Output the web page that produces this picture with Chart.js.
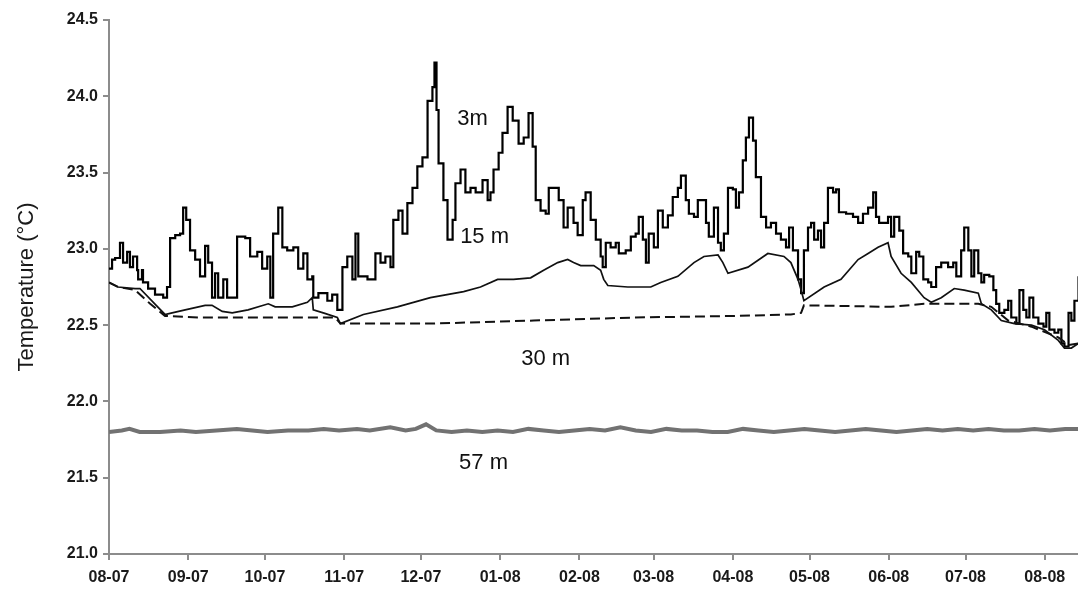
<!DOCTYPE html>
<html>
<head>
<meta charset="utf-8">
<script src="https://cdn.jsdelivr.net/npm/chart.js@4.4.1/dist/chart.umd.min.js"></script>
<style>
	html, body { margin: 0; padding: 0; background: #fff; }
	#wrap { width: 1078px; height: 592px; }
</style>
</head>
<body>
<div id="wrap"><canvas id="tempChart"></canvas></div>
<script>
// days counted from 1 Aug 2007, temperatures in °C
const monthDays = [0, 31, 61, 92, 122, 153, 184, 213, 244, 274, 305, 335, 366];
const monthLabels = ["08-07", "09-07", "10-07", "11-07", "12-07", "01-08", "02-08", "03-08", "04-08", "05-08", "06-08", "07-08", "08-08"];

const temp3m = [[0,22.87],[1.2,22.93],[2.4,22.94],[4.3,23.04],[5.5,22.91],[7.1,22.98],[8.2,22.88],[9.4,22.95],[11,22.86],[11.4,22.8],[12.9,22.86],[13.3,22.78],[15.3,22.74],[18,22.7],[21.2,22.68],[22.7,22.75],[23.9,23.07],[25.9,23.09],[27.8,23.1],[29,23.27],[30.2,23.19],[31.7,22.99],[33.7,22.93],[35.6,22.82],[37.6,23.02],[38.8,22.91],[40.3,22.68],[41.5,22.84],[42.7,22.68],[44.7,22.8],[46.2,22.68],[48.2,22.68],[50.1,23.08],[53.3,23.07],[55.2,22.95],[58,22.98],[59.9,22.87],[61.9,22.95],[63.1,22.68],[64.2,23.1],[66.2,23.27],[67.8,23.01],[69.7,22.99],[72.1,23.01],[74,22.87],[76,22.97],[77.6,22.8],[79.5,22.82],[79.9,22.68],[81.9,22.71],[83.8,22.71],[85.4,22.66],[87.3,22.7],[89.3,22.6],[91.3,22.88],[93.2,22.95],[95.2,22.8],[96.4,23.1],[97.5,22.82],[101.1,22.8],[104.2,22.97],[106.2,22.91],[108.1,22.95],[110.1,22.88],[111.2,23.19],[113.2,23.25],[114.8,23.1],[116.7,23.3],[118.7,23.4],[120.6,23.54],[122.6,23.6],[124.6,23.97],[126.5,24.06],[127.3,24.22],[128.1,23.91],[128.9,23.56],[130.8,23.32],[132.4,23.06],[134.4,23.19],[135.5,23.43],[137.5,23.52],[139.4,23.37],[141.4,23.4],[143.4,23.37],[146.1,23.45],[148.1,23.32],[149.2,23.37],[150.4,23.52],[152.4,23.63],[153.9,23.76],[155.9,23.93],[157.9,23.84],[160.2,23.69],[162.2,23.73],[164.1,23.89],[165.7,23.67],[166.9,23.32],[168.8,23.25],[170.8,23.23],[172,23.4],[173.9,23.4],[175.9,23.32],[177.8,23.14],[179.4,23.27],[181.7,23.17],[183.3,23.09],[185.3,23.32],[186.4,23.37],[188.4,23.19],[190.4,23.06],[192.3,22.95],[193.1,22.88],[194.3,23.04],[196.2,23.01],[198.2,23.04],[199.4,22.97],[202.1,22.99],[204.1,23.08],[206,23.1],[207.2,23.21],[208.8,23.06],[210,22.91],[211.1,23.1],[213.1,23.01],[214.7,23.25],[216.6,23.14],[218.6,23.22],[220.5,23.34],[222.5,23.4],[223.7,23.48],[225.6,23.32],[226.8,23.23],[228.8,23.21],[230.3,23.32],[232.3,23.32],[233.5,23.17],[234.6,23.08],[236.6,23.27],[238.2,23.04],[239.3,22.99],[240.5,23.1],[242.1,23.4],[244,23.39],[245.2,23.27],[246.4,23.37],[247.9,23.58],[249.1,23.73],[250.3,23.86],[251.9,23.71],[253,23.47],[255,23.21],[257,23.14],[258.9,23.17],[260.9,23.1],[262.8,23.06],[264.8,23.01],[266,23.14],[267.5,22.99],[269.5,22.8],[270.7,22.71],[271.8,22.99],[273.4,23.14],[274.6,23.17],[275.8,23.06],[277.3,23.12],[278.5,23.01],[279.7,23.17],[281.2,23.4],[283.2,23.37],[284.4,23.39],[285.5,23.24],[288.3,23.23],[291,23.21],[293,23.17],[294.9,23.23],[296.9,23.27],[298.9,23.37],[300,23.21],[301.2,23.17],[303.2,23.17],[304.7,23.21],[305.9,23.08],[307.1,23.21],[309.1,23.12],[310.6,22.97],[312.6,22.95],[313.8,22.84],[315.7,22.98],[316.9,22.95],[318.5,22.8],[320.4,22.78],[321.6,22.75],[323.5,22.88],[325.5,22.91],[328.2,22.88],[330.2,22.91],[331.4,22.82],[333.3,22.99],[334.5,23.14],[336.1,22.99],[337.3,22.82],[338.4,22.99],[340,22.84],[341.2,22.78],[342.3,22.83],[344.3,22.82],[345.9,22.73],[347,22.64],[348.2,22.58],[350.2,22.6],[351.7,22.66],[352.9,22.55],[354.9,22.51],[356.1,22.73],[357.6,22.6],[358.8,22.55],[360,22.68],[361.5,22.55],[363.5,22.51],[365.5,22.49],[366.6,22.58],[367.8,22.47],[369.8,22.45],[371.3,22.47],[372.5,22.38],[373.7,22.36],[375.3,22.58],[376.4,22.53],[377.6,22.66],[379.2,22.82]];

const temp15m = [[0,22.78],[3.5,22.75],[10.2,22.74],[12.1,22.74],[21.9,22.57],[24.7,22.58],[29.8,22.6],[37.6,22.63],[40.3,22.63],[44.3,22.59],[48.2,22.58],[54.4,22.6],[62.3,22.64],[65,22.62],[71.7,22.62],[77.6,22.65],[79.5,22.68],[79.9,22.6],[83.8,22.58],[89.3,22.55],[90.5,22.51],[99.5,22.57],[112.8,22.62],[125.7,22.68],[138.7,22.72],[145.3,22.75],[152,22.8],[158.2,22.8],[164.9,22.81],[170,22.86],[175.5,22.91],[179.4,22.93],[181.7,22.91],[184.5,22.89],[189.6,22.89],[192.3,22.86],[193.5,22.8],[195.1,22.76],[202.9,22.75],[211.9,22.75],[215.8,22.78],[222.5,22.82],[228.8,22.91],[232.7,22.95],[238.2,22.96],[240.1,22.91],[242.1,22.84],[249.9,22.88],[257.7,22.97],[264,22.95],[266.7,22.91],[269.5,22.8],[270.7,22.73],[271.8,22.66],[279.7,22.75],[286.3,22.8],[293,22.93],[296.9,22.97],[300.8,23.01],[304.7,23.04],[305.9,22.95],[309.8,22.84],[313.8,22.78],[318.8,22.68],[321.6,22.65],[325.5,22.68],[330.6,22.74],[334.5,22.73],[340,22.71],[341.2,22.64],[345.1,22.6],[349,22.53],[354.1,22.51],[360.8,22.5],[365.9,22.47],[371.3,22.4],[373.7,22.35],[376.4,22.35],[379.2,22.38]];

const temp30m = [[0,22.78],[3.5,22.75],[10.2,22.73],[16.1,22.64],[21.9,22.56],[35.6,22.55],[88.5,22.55],[90.5,22.51],[125.7,22.51],[166.1,22.53],[205.3,22.55],[244.4,22.56],[266.7,22.57],[270.7,22.58],[271.8,22.63],[305.9,22.62],[318.8,22.64],[340,22.64],[345.1,22.62],[351.7,22.53],[360.8,22.49],[371.3,22.42],[375.3,22.37],[379.2,22.38]];

const temp57m = [[0,21.8],[5,21.81],[8,21.82],[12,21.8],[20,21.8],[28,21.81],[34,21.8],[42,21.81],[50,21.82],[56,21.81],[62,21.8],[70,21.81],[78,21.81],[84,21.82],[90,21.81],[97,21.82],[102,21.81],[110,21.83],[116,21.81],[120,21.82],[124,21.85],[128,21.81],[134,21.8],[140,21.81],[146,21.8],[152,21.81],[158,21.8],[164,21.82],[170,21.81],[176,21.8],[182,21.81],[188,21.82],[194,21.81],[200,21.83],[206,21.81],[212,21.8],[218,21.82],[224,21.81],[230,21.81],[236,21.8],[242,21.8],[248,21.82],[254,21.81],[260,21.8],[266,21.81],[272,21.82],[278,21.81],[284,21.8],[290,21.81],[296,21.82],[302,21.81],[308,21.8],[314,21.81],[320,21.82],[326,21.81],[332,21.82],[338,21.81],[344,21.82],[350,21.81],[356,21.81],[362,21.82],[368,21.81],[374,21.82],[379,21.82]];

// depth labels, placed in data units
const depthNames = ["3m", "15 m", "30 m", "57 m"];
const depthDay = [142.2, 146.9, 170.8, 146.5];
const depthTemp = [23.85, 23.08, 22.28, 21.6];

const toPoints = arr => arr.map(p => ({x: p[0], y: p[1]}));

const depthLabels = {
	id: "depthLabels",
	afterDatasetsDraw(chart) {
		const {ctx, scales} = chart;
		ctx.save();
		ctx.font = "22px 'Liberation Sans', Arial, sans-serif";
		ctx.fillStyle = "#111";
		ctx.textAlign = "center";
		ctx.textBaseline = "middle";
		depthNames.forEach((name, i) => {
			ctx.fillText(name, scales.x.getPixelForValue(depthDay[i]), scales.y.getPixelForValue(depthTemp[i]));
		});
		ctx.restore();
	}
};

const axisGray = "#8c8c8c";
const tickFont = {family: "'Liberation Sans', Arial, sans-serif", size: 16, weight: "bold"};

new Chart(document.querySelector("#tempChart"), {
	type: "line",
	data: {
		datasets: [{
			label: "57 m",
			data: toPoints(temp57m),
			borderColor: "#727272",
			borderWidth: 4,
			pointRadius: 0
		},{
			label: "30 m",
			data: toPoints(temp30m),
			borderColor: "#111",
			borderWidth: 2,
			borderDash: [10, 5],
			pointRadius: 0
		},{
			label: "15 m",
			data: toPoints(temp15m),
			borderColor: "#111",
			borderWidth: 1.7,
			pointRadius: 0
		},{
			label: "3m",
			data: toPoints(temp3m),
			borderColor: "#000",
			borderWidth: 2.2,
			stepped: true,
			pointRadius: 0
		}]
	},
	options: {
		responsive: true,
		maintainAspectRatio: false,
		animation: false,
		layout: {
			padding: {top: 20, right: 0, bottom: 0, left: 0}
		},
		plugins: {
			legend: {display: false},
			tooltip: {enabled: false}
		},
		scales: {
			x: {
				type: "linear",
				min: 0,
				max: 379,
				afterBuildTicks: scale => {
					scale.ticks = monthDays.map(v => ({value: v}));
				},
				afterFit: scale => {
					scale.height = 38;
				},
				ticks: {
					autoSkip: false,
					maxRotation: 0,
					color: "#1a1a1a",
					font: tickFont,
					padding: 8,
					callback: v => monthLabels[monthDays.indexOf(v)]
				},
				grid: {
					drawOnChartArea: false,
					drawTicks: true,
					tickLength: 6,
					color: axisGray,
					lineWidth: 2
				},
				border: {display: true, color: axisGray, width: 2}
			},
			y: {
				min: 21,
				max: 24.5,
				afterFit: scale => {
					scale.width = 109;
				},
				ticks: {
					stepSize: 0.5,
					color: "#1a1a1a",
					font: tickFont,
					padding: 5,
					callback: v => v.toFixed(1)
				},
				grid: {
					drawOnChartArea: false,
					drawTicks: true,
					tickLength: 6,
					color: axisGray,
					lineWidth: 2
				},
				border: {display: true, color: axisGray, width: 2},
				title: {
					display: true,
					text: "Temperature (°C)",
					color: "#1a1a1a",
					font: {family: "'Liberation Sans', Arial, sans-serif", size: 22},
					padding: {top: 14, bottom: 0}
				}
			}
		}
	},
	plugins: [depthLabels]
});
</script>
</body>
</html>
